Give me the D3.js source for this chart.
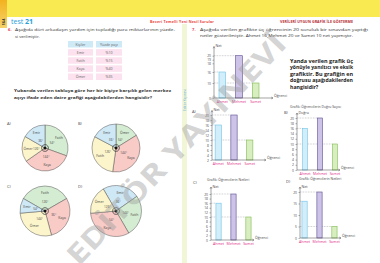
<!DOCTYPE html>
<html>
<head>
<meta charset="utf-8">
<script src="https://cdn.jsdelivr.net/npm/d3@7"></script>
<style>
  html, body { margin: 0; padding: 0; background: #fff; }
  svg { display: block; font-family: "Open Sans", "Noto Sans", sans-serif; }
</style>
</head>
<body>
<div id="page"></div>
<script>
// ===== veriler =====
const tableHead = ['Kişiler', 'Yüzde payı'];
const tableNames = ['Emir', 'Fatih', 'Kaya', 'Ömer'];
const tableShares = ['%10', '%15', '%40', '%35'];

// daire grafikleri: görünen dilim açıları (saat yönünde), renk, isim, yazılan açı
const pieAValues = [110, 125, 65, 60];
const pieANames = ['Fatih', 'Kaya', 'Ömer', 'Emir'];
const pieAColors = ['green', 'pink', 'yellow', 'blue'];
const pieAAngles = ['54°', '144°', '126°', '36°'];

const pieBValues = [58, 130, 110, 62];
const pieBNames = ['Ömer', 'Kaya', 'Fatih', 'Emir'];
const pieBColors = ['green', 'pink', 'yellow', 'blue'];
const pieBAngles = ['54°', '144°', '126°', '36°'];

const pieCValues = [120, 105, 100, 35];
const pieCNames = ['Fatih', 'Kaya', 'Ömer', 'Emir'];
const pieCColors = ['green', 'pink', 'yellow', 'blue'];
const pieCAngles = ['126°', '36°', '144°', '54°'];

const pieDValues = [85, 95, 115, 65];
const pieDNames = ['Emir', 'Fatih', 'Kaya', 'Ömer'];
const pieDColors = ['blue', 'green', 'pink', 'yellow'];
const pieDAngles = ['36°', '144°', '54°', '126°'];

// sütun grafikleri
const students = ['Ahmet', 'Mehmet', 'Samet'];
const nets = [16, 20, 10];
const netsD = [16, 20, 5];
const ticksTop = [0, 10, 16, 18, 19, 20];
const ticksA = [2, 4, 6, 8, 10, 12, 14, 16, 18, 20];
const ticksBC = [0, 2, 4, 6, 8, 10, 12, 14, 16, 18, 20];
const ticksD = [0, 5, 10, 15, 20];

const pieFill = { blue: '#cfe8f6', green: '#d4ecd1', pink: '#f8cbc6', yellow: '#fcf5cb' };
const barFill = ['#d2eefa', '#cdc3e8', '#d9eec0'];
const barStroke = ['#6fc3e8', '#5b4b8f', '#7dbb4f'];

const W = 380, H = 263;
const svg = d3.select('#page').append('svg')
    .attr('width', W).attr('height', H).attr('viewBox', [0, 0, W, H]);

// ===== sayfa başlığı =====
svg.append('rect').attr('x', 0).attr('y', 0).attr('width', W).attr('height', 17).attr('fill', '#f8ea50');
const grad = svg.append('defs').append('linearGradient').attr('id', 'og').attr('x1', 0).attr('x2', 0).attr('y1', 0).attr('y2', 1);
grad.append('stop').attr('offset', 0).attr('stop-color', '#f3b21f');
grad.append('stop').attr('offset', 1).attr('stop-color', '#f6d36a');
svg.append('rect').attr('x', 0).attr('y', 0).attr('width', 7).attr('height', 28).attr('fill', 'url(#og)');
svg.append('rect').attr('x', 182).attr('y', 24).attr('width', 5).attr('height', H - 24).attr('fill', '#f1f6d6');
svg.append('text').attr('transform', 'translate(185.5,100) rotate(-90)').attr('font-size', 3.2)
    .attr('fill', '#5aa9d6').attr('text-anchor', 'middle').text('Editör Yayınevi');

svg.append('text').attr('transform', 'translate(5,22) rotate(-90)').attr('font-size', 4)
    .attr('font-weight', 700).attr('fill', '#333').attr('text-anchor', 'middle').text('164');
const t21 = svg.append('text').attr('x', 11).attr('y', 23.5).attr('fill', '#2b9ed8').attr('font-size', 7);
t21.append('tspan').text('test ');
t21.append('tspan').attr('font-weight', 700).text('21');

svg.append('text').attr('x', 150).attr('y', 23).attr('font-size', 3.6).attr('font-weight', 700)
    .attr('fill', '#e8463c').attr('textLength', 64).text('Beceri Temelli Yeni Nesil Sorular');
svg.append('text').attr('x', 280).attr('y', 23).attr('font-size', 3.6).attr('font-weight', 700)
    .attr('fill', '#b3282f').attr('textLength', 73).text('VERİLERİ UYGUN GRAFİK İLE GÖSTERME');

// ===== yardımcı: metin satırı =====
function line(x, y, str, opts = {}) {
    const t = svg.append('text').attr('x', x).attr('y', y)
        .attr('font-size', opts.size || 4.2)
        .attr('font-weight', opts.bold ? 700 : 400)
        .attr('fill', opts.color || '#333')
        .text(str);
    if (opts.len) t.attr('textLength', opts.len).attr('lengthAdjust', 'spacingAndGlyphs');
    return t;
}

// ===== soru 6 =====
line(8, 31, '6.', { bold: true, color: '#e23a5a' });
line(15, 31, 'Aşağıda dört arkadaşın yardım için topladığı para miktarlarının yüzde-', { len: 160 });
line(15, 37.5, 'si verilmiştir.');

// tablo
const rowY = d3.scaleBand().domain(d3.range(tableNames.length + 1)).range([41, 80]).paddingInner(0.2);
const colX = d3.scaleOrdinal().domain([0, 1]).range([68, 96]);
const colW = [25, 26];
const rows = [tableHead].concat(tableNames.map((n, i) => [n, tableShares[i]]));
rows.forEach((r, i) => {
    r.forEach((cell, j) => {
        svg.append('rect').attr('x', colX(j)).attr('y', rowY(i))
            .attr('width', colW[j]).attr('height', rowY.bandwidth())
            .attr('fill', i === 0 ? '#cfeaf7' : '#fbe2ee');
        svg.append('text').attr('x', colX(j) + colW[j] / 2).attr('y', rowY(i) + rowY.bandwidth() / 2 + 1.3)
            .attr('text-anchor', 'middle').attr('font-size', 3.6).attr('fill', '#666').text(cell);
    });
});

line(14, 91.5, 'Yukarıda verilen tabloya göre her bir kişiye karşılık gelen merkez', { bold: true, len: 157 });
line(14, 98.5, 'açıyı ifade eden daire grafiği aşağıdakilerden hangisidir?', { bold: true, len: 138 });

// ===== daire grafikleri =====
function drawPie(cx, cy, r, label, values, names, colors, angles, start) {
    svg.append('text').attr('x', cx - 38).attr('y', cy - 23).attr('font-size', 4).attr('fill', '#444').text(label);
    const g = svg.append('g').attr('transform', `translate(${cx},${cy})`);
    const pie = d3.pie().sort(null).value(d => d)
        .startAngle(start * Math.PI / 180).endAngle(start * Math.PI / 180 + 2 * Math.PI);
    const arcs = pie(values);
    const arc = d3.arc().innerRadius(0).outerRadius(r);
    g.selectAll('path.slice').data(arcs).join('path').attr('class', 'slice')
        .attr('d', arc).attr('fill', (d, i) => pieFill[colors[i]])
        .attr('stroke', '#555').attr('stroke-width', 0.5);
    const mark = d3.arc().innerRadius(3.4).outerRadius(3.4);
    g.selectAll('path.mark').data(arcs).join('path').attr('class', 'mark')
        .attr('d', mark).attr('fill', 'none').attr('stroke', '#333').attr('stroke-width', 0.4);
    g.append('circle').attr('r', 1.5).attr('fill', '#111');
    const nameArc = d3.arc().innerRadius(r * 0.74).outerRadius(r * 0.74);
    const angArc = d3.arc().innerRadius(r * 0.38).outerRadius(r * 0.38);
    g.selectAll('text.name').data(arcs).join('text').attr('class', 'name')
        .attr('transform', d => `translate(${nameArc.centroid(d)})`)
        .attr('text-anchor', 'middle').attr('dy', 1.2).attr('font-size', 3.4).attr('fill', '#444')
        .text((d, i) => names[i]);
    g.selectAll('text.ang').data(arcs).join('text').attr('class', 'ang')
        .attr('transform', d => `translate(${angArc.centroid(d)})`)
        .attr('text-anchor', 'middle').attr('dy', 1.2).attr('font-size', 3.1).attr('fill', '#444')
        .text((d, i) => angles[i]);
}
drawPie(45, 148, 23, 'A)', pieAValues, pieANames, pieAColors, pieAAngles, 0);
drawPie(116, 148, 24, 'B)', pieBValues, pieBNames, pieBColors, pieBAngles, 0);
drawPie(45, 211, 25, 'C)', pieCValues, pieCNames, pieCColors, pieCAngles, -60);
drawPie(116, 211, 25.5, 'D)', pieDValues, pieDNames, pieDColors, pieDAngles, -30);

// ===== soru 7 =====
line(192, 31, '7.', { bold: true, color: '#e23a5a' });
line(200, 31, 'Aşağıda verilen grafikte üç öğrencinin 20 soruluk bir sınavdan yaptığı', { len: 168 });
line(200, 37, 'netler gösterilmiştir. Ahmet 16,Mehmet 20 ve Samet 10 net yapmıştır.', { len: 153 });

const qLines = ['Yanda verilen grafik üç', 'yönüyle yanıltıcı ve eksik', 'grafiktir. Bu grafiğin en', 'doğrusu aşağıdakilerden', 'hangisidir?'];
qLines.forEach((s, i) => line(290, 62.5 + i * 6.5, s, { bold: true, size: 5.2, color: '#222', len: i < 4 ? 63 : null }));

// ===== sütun grafikleri =====
function drawBars(cfg) {
    const x = d3.scaleBand().domain(students).range(cfg.xRange)
        .paddingInner(cfg.pi).paddingOuter(cfg.po);
    const y = d3.scaleLinear().domain(cfg.domain).range(cfg.yRange);
    const x0 = cfg.xRange[0];
    const base = y(cfg.domain[0]);
    const g = svg.append('g');

    if (cfg.title) g.append('text').attr('x', cfg.title[1]).attr('y', cfg.title[2])
        .attr('font-size', 3.4).attr('fill', '#444').text(cfg.title[0]);
    if (cfg.label) g.append('text').attr('x', cfg.label[1]).attr('y', cfg.label[2])
        .attr('font-size', 4).attr('fill', '#444').text(cfg.label[0]);

    // kesikli çizgiler
    g.selectAll('line.guide').data(cfg.values).join('line').attr('class', 'guide')
        .attr('x1', x0).attr('x2', (d, i) => x(students[i]))
        .attr('y1', d => y(d)).attr('y2', d => y(d))
        .attr('stroke', '#777').attr('stroke-width', 0.4).attr('stroke-dasharray', '0.8,0.8');

    g.selectAll('rect.bar').data(cfg.values).join('rect').attr('class', 'bar')
        .attr('x', (d, i) => x(students[i])).attr('width', x.bandwidth())
        .attr('y', d => y(d)).attr('height', d => base - y(d))
        .attr('fill', (d, i) => barFill[i]).attr('stroke', (d, i) => barStroke[i]).attr('stroke-width', 0.6);

    const ax = g.append('g').attr('transform', `translate(${x0},0)`)
        .call(d3.axisLeft(y).tickValues(cfg.ticks).tickSize(1.5).tickPadding(1.5));
    ax.select('.domain').remove();
    ax.selectAll('line').attr('stroke', '#444').attr('stroke-width', 0.4);
    ax.selectAll('text').attr('font-size', 3.3).attr('fill', '#444').attr('font-family', 'Open Sans, sans-serif');

    // eksenler ve oklar
    g.append('line').attr('x1', x0).attr('x2', x0).attr('y1', base).attr('y2', cfg.yTop)
        .attr('stroke', '#444').attr('stroke-width', 0.5);
    g.append('path').attr('d', `M${x0 - 1},${cfg.yTop + 1.8}L${x0},${cfg.yTop}L${x0 + 1},${cfg.yTop + 1.8}`)
        .attr('fill', 'none').attr('stroke', '#444').attr('stroke-width', 0.4);
    g.append('line').attr('x1', x0).attr('x2', cfg.xEnd).attr('y1', base).attr('y2', base)
        .attr('stroke', '#444').attr('stroke-width', 0.5);
    g.append('path').attr('d', `M${cfg.xEnd - 1.8},${base - 1}L${cfg.xEnd},${base}L${cfg.xEnd - 1.8},${base + 1}`)
        .attr('fill', 'none').attr('stroke', '#444').attr('stroke-width', 0.4);

    g.append('text').attr('x', x0 + 1.5).attr('y', cfg.yTop + 0.5).attr('font-size', 3.6).attr('fill', '#444').text(cfg.yName);
    g.append('text').attr('x', cfg.xEnd + 1).attr('y', base - 1.5).attr('font-size', 3.6).attr('fill', '#444').text('Öğrenci');

    g.selectAll('text.cat').data(students).join('text').attr('class', 'cat')
        .attr('x', d => x(d) + x.bandwidth() / 2).attr('y', base + 4.6)
        .attr('text-anchor', 'middle').attr('font-size', 3.6).attr('fill', '#e0308a').text(d => d);
}

drawBars({ values: nets, domain: ticksTop, ticks: ticksTop,
    yRange: [98, 83, 72, 63.3, 59.7, 55.7], xRange: [214, 264], pi: 0.6, po: 0.3,
    yTop: 46.5, xEnd: 273, yName: 'Net' });
drawBars({ values: nets, domain: [2, 20], ticks: ticksA, yRange: [160, 115],
    xRange: [212, 256], pi: 0.6, po: 0.2, yTop: 110.5, xEnd: 266, yName: 'Net', label: ['A)', 192, 113] });
drawBars({ values: nets, domain: [0, 20], ticks: ticksBC, yRange: [170, 118],
    xRange: [297, 343], pi: 0.68, po: 0.38, yTop: 113, xEnd: 340, yName: 'Doğru',
    label: ['B)', 284, 114], title: ['Grafik: Öğrencilerin Doğru Sayısı', 290, 108] });
drawBars({ values: nets, domain: [0, 20], ticks: ticksBC, yRange: [240, 194],
    xRange: [211, 256], pi: 0.65, po: 0.33, yTop: 187, xEnd: 254, yName: 'Net',
    label: ['C)', 193, 184], title: ['Grafik: Öğrencilerin Netleri', 207, 181] });
drawBars({ values: netsD, domain: [0, 20], ticks: ticksD, yRange: [238, 192],
    xRange: [300, 339], pi: 0.65, po: 0.13, yTop: 187, xEnd: 341, yName: 'Net',
    label: ['D)', 286, 183], title: ['Grafik: Öğrencilerin Netleri', 299, 180] });

// ===== filigran =====
svg.append('text').attr('transform', 'translate(178,151) rotate(-46.6)')
    .attr('text-anchor', 'middle').attr('dominant-baseline', 'middle')
    .attr('font-size', 28).attr('font-weight', 700).attr('fill', '#9a9a9a').attr('fill-opacity', 0.42)
    .attr('textLength', 305).attr('lengthAdjust', 'spacingAndGlyphs')
    .text('EDİTÖR YAYINEVİ');
</script>
</body>
</html>
